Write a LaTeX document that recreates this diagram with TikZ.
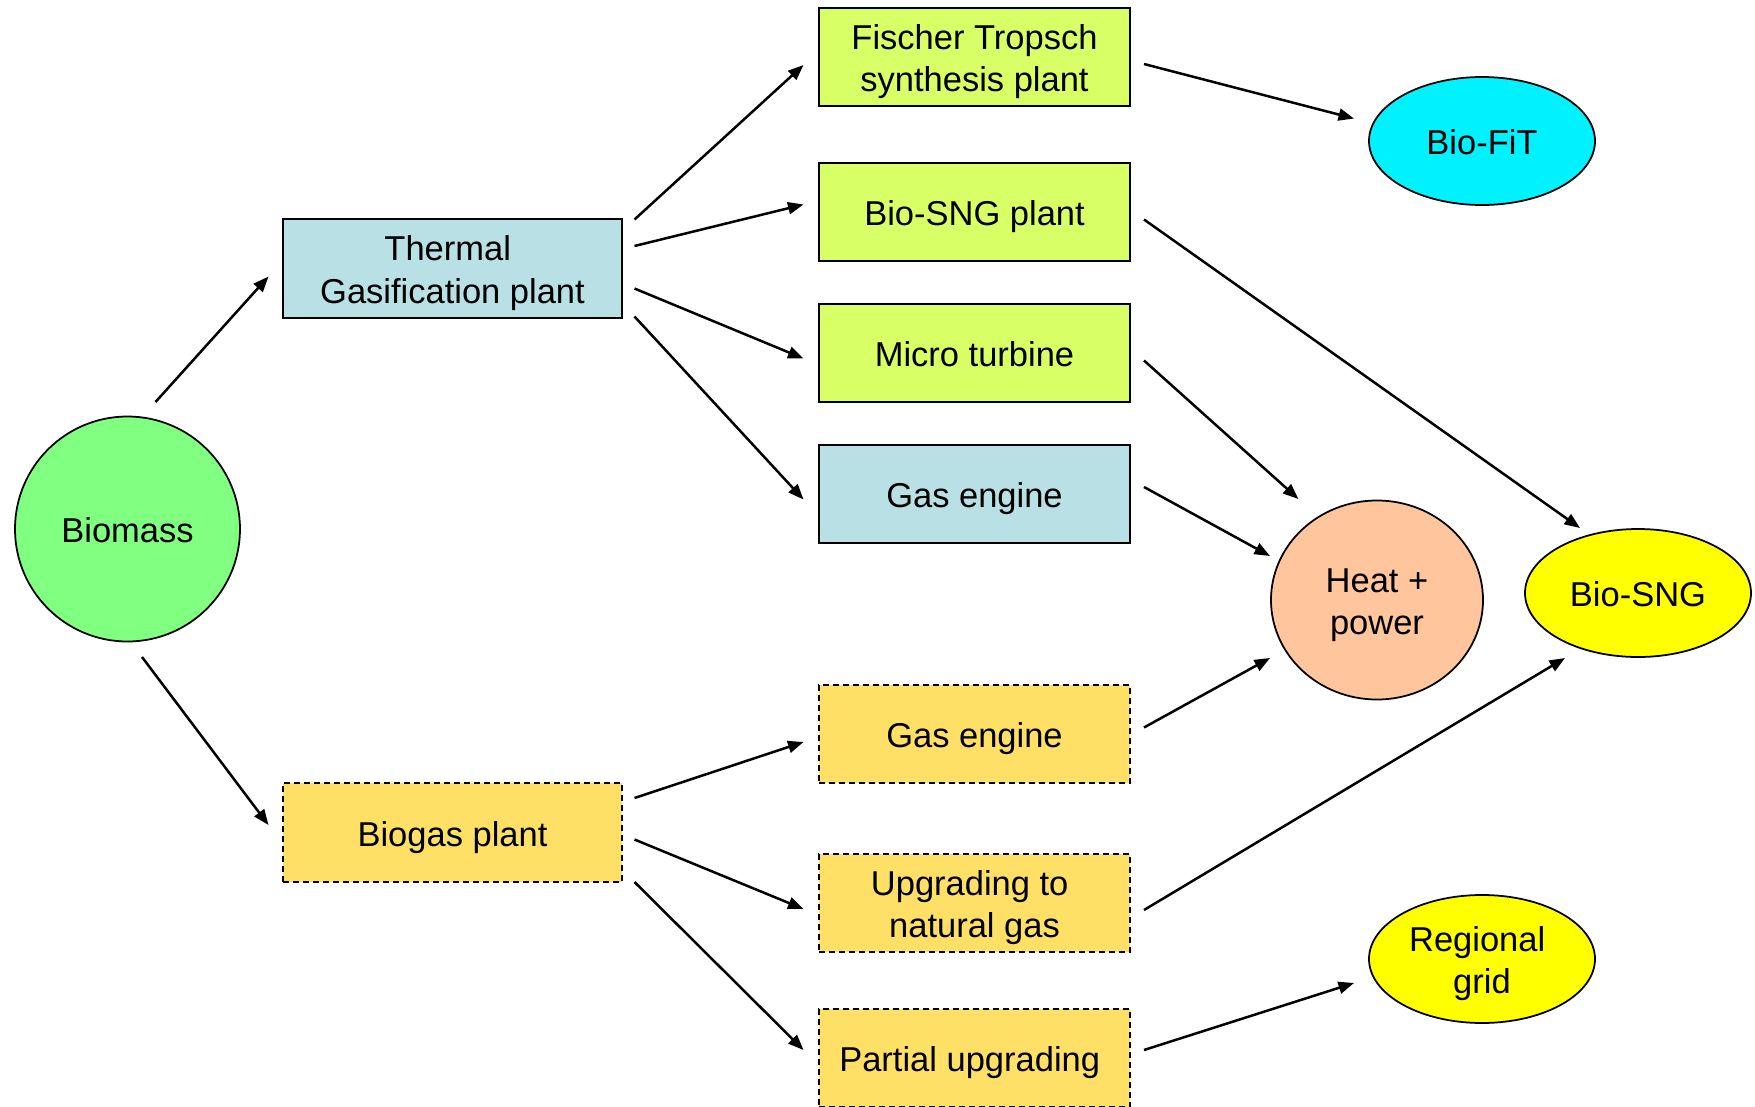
\documentclass[tikz,border=0pt]{standalone}
\usepackage{fontspec}
\setmainfont{Liberation Sans}
\usetikzlibrary{shapes.geometric,arrows.meta,calc}
\definecolor{cgreen}{RGB}{128,255,128}
\definecolor{cblue}{RGB}{185,224,228}
\definecolor{clime}{RGB}{217,255,102}
\definecolor{cgold}{RGB}{255,224,102}
\definecolor{ccyan}{RGB}{0,242,255}
\definecolor{cpeach}{RGB}{255,198,158}
\definecolor{cyel}{RGB}{255,255,0}
\newcommand{\tsp}{\kern0.278em}
\newcommand{\lbl}[1]{\raisebox{-2pt}[\height][\depth]{\begin{tabular}{@{}c@{}}#1\end{tabular}}}
\tikzset{
  x=0.4pt, y=-0.4pt,
  every node/.style={font=\fontsize{13.8}{17}\selectfont, inner sep=0pt},
  boxnode/.style={draw=black, line width=0.8pt, rectangle, minimum width=124.4pt, minimum height=39.2pt},
  gasbox/.style={boxnode, fill=cblue, minimum width=135.6pt, minimum height=39.6pt},
  limebox/.style={boxnode, fill=clime},
  bluebox/.style={boxnode, fill=cblue},
  goldbox/.style={boxnode, fill=cgold, dash pattern=on 2.4pt off 1.6pt},
  goldwide/.style={goldbox, minimum width=135.6pt, minimum height=39.6pt},
  oval/.style={draw=black, line width=0.7pt, ellipse, minimum width=90.4pt, minimum height=51.2pt},
  flow/.style={line width=1pt, -{Triangle[length=6.2pt,width=4.8pt]}}
}
\begin{document}
\begin{tikzpicture}
\useasboundingbox (0,0) rectangle (1755,1107);
\clip (0,0) rectangle (1755,1107);
\fill[white] (0,0) rectangle (1755,1107);

\node[draw=black, line width=0.7pt, circle, fill=cgreen, minimum size=90pt] (bm) at (127.5,529) {\lbl{Biomass}};
\node[gasbox] (tg) at (452.5,268.5) {\lbl{Thermal\tsp\\Gasification plant}};
\node[goldwide] (bg) at (452.5,832.5) {\lbl{Biogas plant}};

\node[limebox] (ft) at (974.5,57) {\lbl{Fischer Tropsch\\synthesis plant}};
\node[limebox] (sp) at (974.5,211.5) {\lbl{Bio-SNG plant}};
\node[limebox] (mt) at (974.5,352.5) {\lbl{Micro turbine}};
\node[bluebox] (ge1) at (974.5,493.5) {\lbl{Gas engine}};
\node[goldbox] (ge2) at (974.5,734) {\lbl{Gas engine}};
\node[goldbox] (up) at (974.5,903) {\lbl{Upgrading to\tsp\\natural gas}};
\node[goldbox] (pu) at (974.5,1058) {\lbl{Partial upgrading\tsp}};

\node[oval, fill=ccyan] (fit) at (1482,141) {\lbl{Bio-FiT}};
\node[oval, fill=cpeach, minimum width=84.8pt, minimum height=79.6pt] (hp) at (1377,600) {\lbl{Heat +\\power}};
\node[oval, fill=cyel] (sng) at (1638,593) {\lbl{Bio-SNG}};
\node[oval, fill=cyel] (rg) at (1482,959) {\lbl{Regional\tsp\\grid}};

\draw[flow] ($(bm)+(28,-127)$) -- ($(tg)+(-184,8)$);
\draw[flow] ($(bm)+(14.5,128)$) -- ($(bg)+(-184,-7.5)$);
\draw[flow] ($(tg)+(182,-49)$) -- ($(ft)+(-171,8)$);
\draw[flow] ($(tg)+(182,-22.5)$) -- ($(sp)+(-171,-7)$);
\draw[flow] ($(tg)+(182,20)$) -- ($(mt)+(-171,6)$);
\draw[flow] ($(tg)+(182,48)$) -- ($(ge1)+(-171,6)$);
\draw[flow] ($(ft)+(169.5,7)$) -- ($(fit)+(-128,-22.5)$);
\draw[flow] ($(sp)+(169.5,8)$) -- ($(sng)+(-58,-65)$);
\draw[flow] ($(mt)+(169.5,8)$) -- ($(hp)+(-78.6,-101)$);
\draw[flow] ($(ge1)+(169.5,-6.5)$) -- ($(hp)+(-107,-44)$);
\draw[flow] ($(ge2)+(169.5,-6.5)$) -- ($(hp)+(-107,58)$);
\draw[flow] ($(up)+(169.5,7)$) -- ($(sng)+(-73,65)$);
\draw[flow] ($(pu)+(169.5,-8)$) -- ($(rg)+(-128,24)$);
\draw[flow] ($(bg)+(182,-34.5)$) -- ($(ge2)+(-171,8)$);
\draw[flow] ($(bg)+(182,7)$) -- ($(up)+(-171,6)$);
\draw[flow] ($(bg)+(182,49.5)$) -- ($(pu)+(-171,-8)$);
\end{tikzpicture}
\end{document}
